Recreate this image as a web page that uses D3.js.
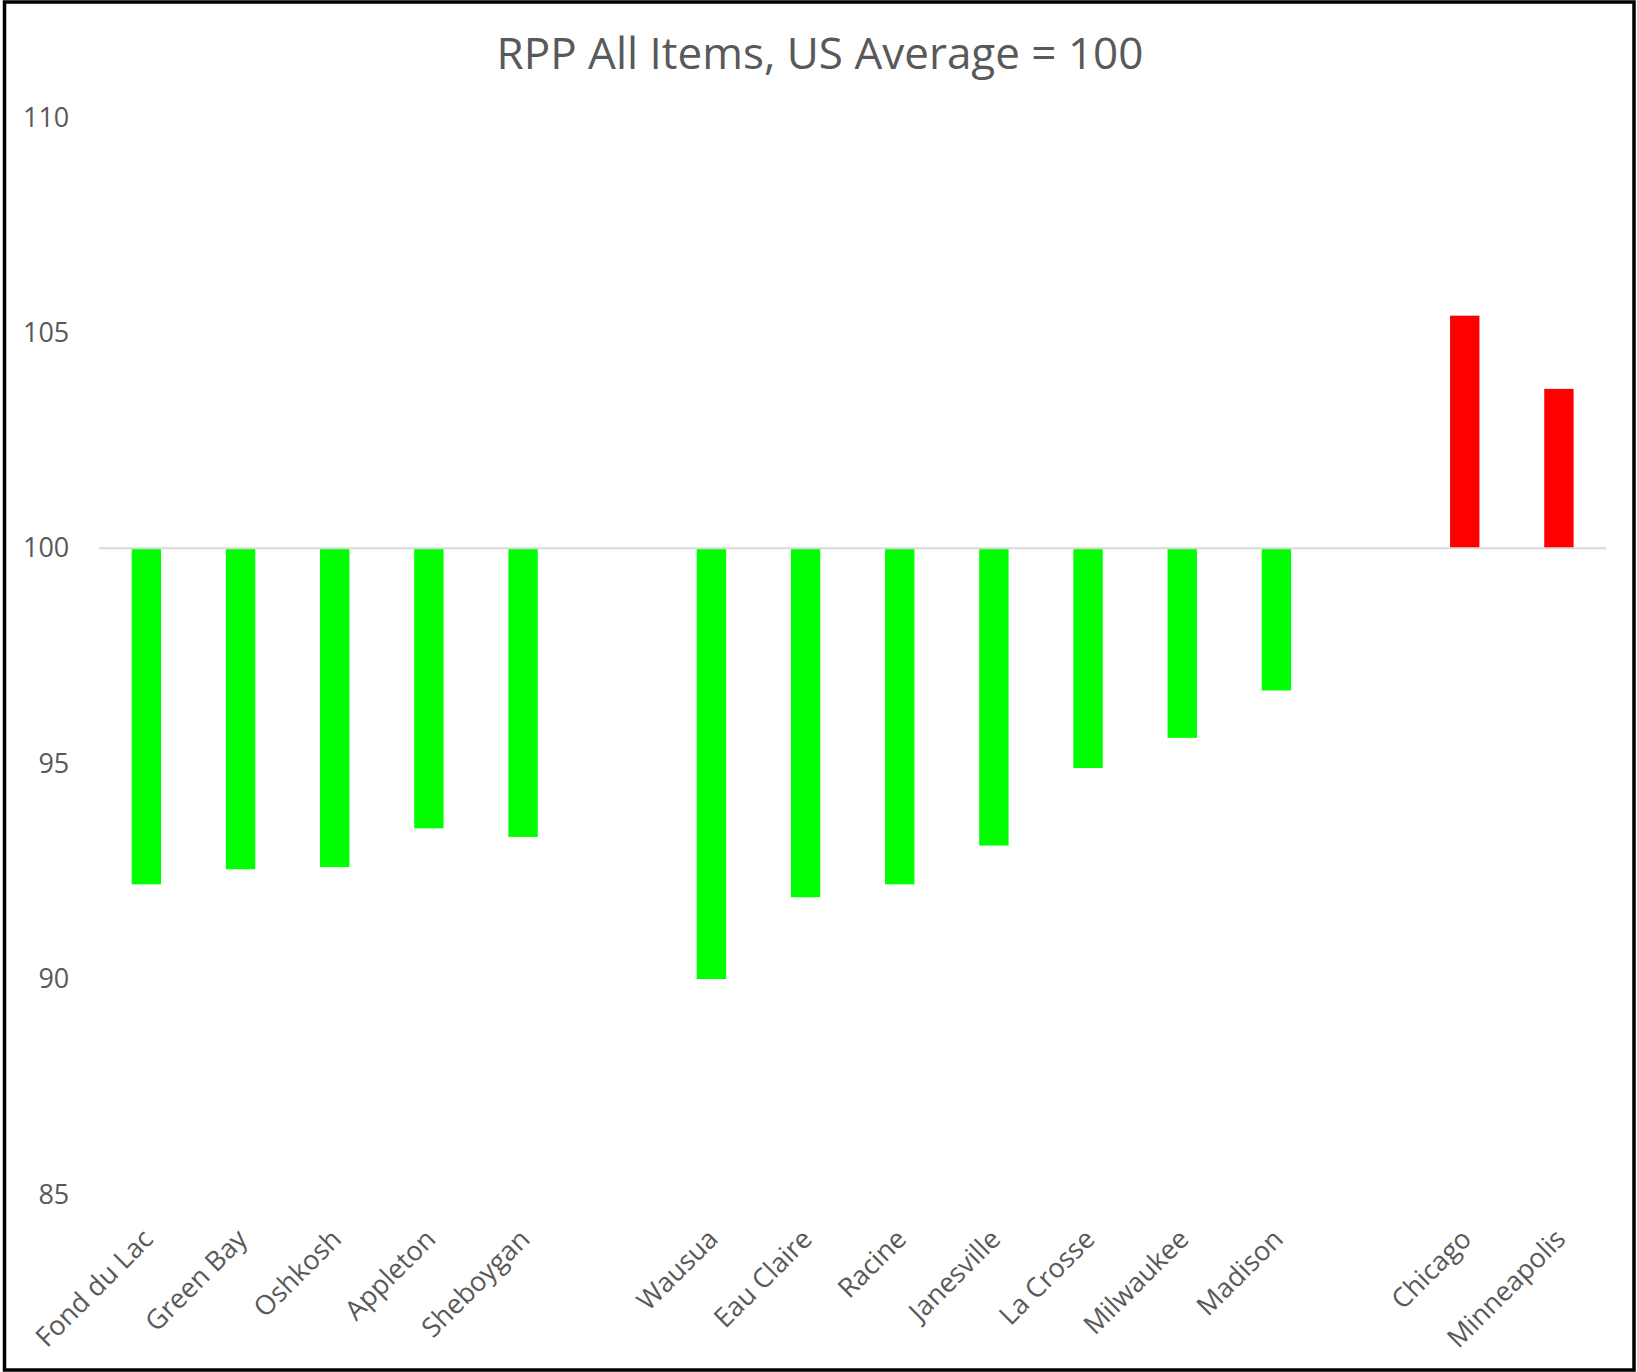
<!DOCTYPE html>
<html>
<head>
<meta charset="utf-8">
<script src="https://cdn.jsdelivr.net/npm/d3@7"></script>
<style>
  html, body { margin: 0; padding: 0; background: #fff; }
  svg { display: block; }
  text { font-family: "Open Sans", sans-serif; fill: #595959; }
</style>
</head>
<body>
<script>
// ---- data ----
const categories = ["Fond du Lac", "Green Bay", "Oshkosh", "Appleton", "Sheboygan", "",
                    "Wausua", "Eau Claire", "Racine", "Janesville", "La Crosse", "Milwaukee", "Madison", "",
                    "Chicago", "Minneapolis"];
const values = [92.2, 92.55, 92.6, 93.5, 93.3, null,
                90.0, 91.9, 92.2, 93.1, 94.9, 95.6, 96.7, null,
                105.4, 103.7];
const yTicks = [85, 90, 95, 100, 105, 110];
const baseValue = 100;
const title = "RPP All Items, US Average = 100";

// ---- layout ----
const W = 1637, H = 1372;
const plot = { left: 99.3, right: 1606, top: 117.5, bottom: 1194.5 };

const svg = d3.select("body").append("svg").attr("width", W).attr("height", H);

svg.append("rect").attr("x", 4.5).attr("y", 2).attr("width", 1629.5).attr("height", 1368)
  .attr("fill", "#fff").attr("stroke", "#000").attr("stroke-width", 3.5);

const idx = categories.map((d, i) => i);
const x = d3.scaleBand().domain(idx).range([plot.left, plot.right])
  .paddingInner(0.688).paddingOuter(0.344);
const y = d3.scaleLinear().domain([85, 110]).range([plot.bottom, plot.top]);

// title
svg.append("text").attr("x", 820).attr("y", 68.5).attr("text-anchor", "middle")
  .style("font-size", "44px").text(title);

// y axis (labels only)
const yAxis = svg.append("g").attr("transform", `translate(${plot.left},0)`)
  .call(d3.axisLeft(y).tickValues(yTicks).tickSize(0).tickPadding(30));
yAxis.select(".domain").remove();
yAxis.selectAll("text").style("font-size", "27px").style("font-family", "'Open Sans', sans-serif")
  .attr("fill", "#595959");

// bars
svg.append("g").selectAll("rect")
  .data(idx.filter(i => values[i] !== null))
  .join("rect")
  .attr("x", i => x(i))
  .attr("width", x.bandwidth())
  .attr("y", i => Math.min(y(values[i]), y(baseValue)))
  .attr("height", i => Math.abs(y(values[i]) - y(baseValue)))
  .attr("fill", i => values[i] >= baseValue ? "#ff0000" : "#00ff00");

// category axis line at 100
svg.append("line").attr("x1", plot.left).attr("x2", plot.right)
  .attr("y1", y(baseValue)).attr("y2", y(baseValue))
  .attr("stroke", "#d9d9d9").attr("stroke-width", 2);

// category labels
const xAxis = svg.append("g").attr("transform", `translate(1.6,1234)`)
  .call(d3.axisBottom(x).tickSize(0).tickPadding(0).tickFormat(i => categories[i]));
xAxis.select(".domain").remove();
xAxis.selectAll("text")
  .attr("y", 0).attr("dy", "0.35em")
  .attr("text-anchor", "end")
  .attr("transform", "rotate(-45)")
  .style("font-size", "27px").style("font-family", "'Open Sans', sans-serif")
  .attr("fill", "#595959");
</script>
</body>
</html>
